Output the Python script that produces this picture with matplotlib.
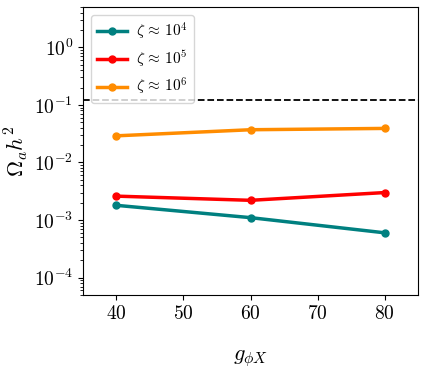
import matplotlib
matplotlib.use("Agg")
import matplotlib.pyplot as plt

plt.rcParams['mathtext.fontset'] = 'cm'
plt.rcParams['font.family'] = 'serif'
plt.rcParams['font.serif'] = ['cmr10']
plt.rcParams['axes.formatter.use_mathtext'] = True

# coupling values and relic abundance for each zeta
g_phiX = [40, 60, 80]
omega_z4 = [1.8e-3, 1.1e-3, 6.0e-4]
omega_z5 = [2.6e-3, 2.2e-3, 3.0e-3]
omega_z6 = [0.029, 0.037, 0.039]
omega_obs = 0.12

fig = plt.figure(figsize=(4.25, 3.71), dpi=100)
ax = fig.add_axes([0.195, 0.205, 0.789, 0.776])

ax.plot(g_phiX, omega_z4, '-o', color='teal', lw=2.5, ms=5, label=r'$\zeta\,\approx\,10^4$')
ax.plot(g_phiX, omega_z5, '-o', color='red', lw=2.5, ms=5, label=r'$\zeta\,\approx\,10^5$')
ax.plot(g_phiX, omega_z6, '-o', color='darkorange', lw=2.5, ms=5, label=r'$\zeta\,\approx\,10^6$')
ax.axhline(omega_obs, color='black', ls='--', lw=1.3)

ax.set_yscale('log')
ax.set_xlim(35, 85)
ax.set_ylim(5e-5, 5)
ax.set_xticks([40, 50, 60, 70, 80])
ax.set_yticks([1e-4, 1e-3, 1e-2, 1e-1, 1])
ax.tick_params(labelsize=14)
ax.set_xlabel(r'$g_{\phi X}$', fontsize=16, labelpad=18)
ax.set_ylabel(r'$\Omega_a h^2$', fontsize=16, labelpad=3)
ax.legend(loc='upper left', fontsize=11, labelspacing=0.45, handletextpad=0.6)

fig.savefig('out.png', dpi=100)
